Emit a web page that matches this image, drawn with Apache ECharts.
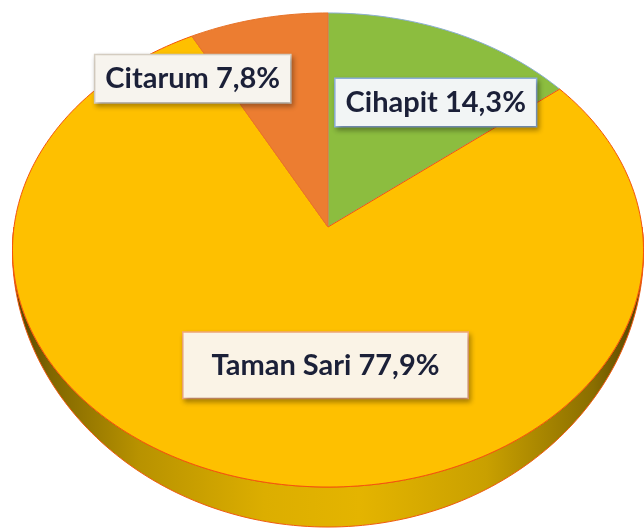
<!DOCTYPE html>
<html>
<head>
<meta charset="utf-8">
<script src="https://cdn.jsdelivr.net/npm/echarts@6/dist/echarts.min.js"></script>
<style>
  html, body { margin: 0; padding: 0; background: #fff; }
  #chart { width: 644px; height: 532px; }
</style>
</head>
<body>
<div id="chart"></div>
<script>
// data, clockwise from 12 o'clock
var categories = ['Cihapit', 'Taman Sari', 'Citarum'];
var values = [14.3, 77.9, 7.8];

// styles
var colors = ['#8cbd3f', '#fec000', '#ec7d31'];
var rimColors = ['#8aaed0', '#f4540c', '#e8742a'];
var labelBoxes = [
  { r: 0.6, dx: 30, dy: -4, bg: '#f2f5f5', border: '#8eb0dc', pad: [9, 10] },
  { r: 0.6, dx: 38, dy: -8, bg: '#faf3e6', border: '#f2a878', pad: [18, 28] },
  { r: 0.6, dx: -92, dy: -19, bg: '#f7f4ee', border: '#d8d0c4', pad: [9, 10] }
];

var chart = echarts.init(document.getElementById('chart'));

// tilted disc with a little perspective
var geo = { cx: 328, cy: 227, rx: 314, ry: 234.8, k: 0.097, h: 40 };

function proj(theta, r) {
  var u = r * Math.sin(theta), v = r * Math.cos(theta);
  var d = 1 + geo.k * v;
  return [geo.cx + geo.rx * u / d, geo.cy - geo.ry * v / d];
}

var total = values.reduce(function (a, b) { return a + b; }, 0);
var starts = [];
var acc = 0;
values.forEach(function (v) { starts.push(acc); acc += v; });

function renderSlice(params, api) {
  var i = params.dataIndex;
  var a0 = starts[i] / total * Math.PI * 2;
  var a1 = (starts[i] + api.value(0)) / total * Math.PI * 2;
  var steps = Math.max(4, Math.ceil((a1 - a0) / 0.02));
  var children = [];

  // side band for the part of the rim that faces the viewer
  var s0 = Math.max(a0, Math.PI / 2), s1 = Math.min(a1, Math.PI * 1.5);
  if (s1 > s0) {
    var top = [], bot = [];
    var n = Math.ceil((s1 - s0) / 0.02);
    for (var j = 0; j <= n; j++) {
      var t = s0 + (s1 - s0) * j / n;
      var p = proj(t, 1);
      var dh = geo.h * Math.pow(Math.max(0, -Math.cos(t)), 1.3);
      top.push(p);
      bot.unshift([p[0], p[1] + dh]);
    }
    children.push({
      type: 'polygon',
      shape: { points: top.concat(bot) },
      style: {
        fill: {
          type: 'linear', x: 0, y: 0, x2: 1, y2: 0,
          colorStops: [
            { offset: 0, color: '#4e3e00' },
            { offset: 0.06, color: '#806600' },
            { offset: 0.2, color: '#b89200' },
            { offset: 0.4, color: '#dcae00' },
            { offset: 0.55, color: '#e4b400' },
            { offset: 0.75, color: '#c9a000' },
            { offset: 0.92, color: '#8a6e00' },
            { offset: 1, color: '#4e3e00' }
          ]
        },
        stroke: '#f05a10',
        lineWidth: 1
      }
    });
  }

  // top face wedge
  var pts = [proj(0, 0)];
  for (var m = 0; m <= steps; m++) {
    pts.push(proj(a0 + (a1 - a0) * m / steps, 1));
  }
  children.push({
    type: 'polygon',
    shape: { points: pts },
    style: { fill: colors[i], stroke: rimColors[i], lineWidth: 1 }
  });

  return { type: 'group', children: children };
}

function renderLabel(params, api) {
  var i = params.dataIndex;
  var v = api.value(0);
  var mid = (starts[i] + v / 2) / total * Math.PI * 2;
  var lb = labelBoxes[i];
  var p = proj(mid, lb.r);
  return {
    type: 'text',
    x: p[0] + lb.dx,
    y: p[1] + lb.dy,
    z2: 100,
    style: {
      text: categories[i] + ' ' + v.toFixed(1).replace('.', ',') + '%',
      font: 'bold 29px Lato',
      fill: '#1b2038',
      align: 'center',
      verticalAlign: 'middle',
      backgroundColor: lb.bg,
      borderColor: lb.border,
      borderWidth: 1.5,
      padding: lb.pad,
      shadowColor: 'rgba(0,0,0,0.3)',
      shadowBlur: 5,
      shadowOffsetX: 2,
      shadowOffsetY: 3
    }
  };
}

var seriesData = values.map(function (v, i) { return { name: categories[i], value: [v] }; });

chart.setOption({
  backgroundColor: '#ffffff',
  animation: false,
  series: [
    { type: 'custom', coordinateSystem: 'none', renderItem: renderSlice, data: seriesData, z: 1 },
    { type: 'custom', coordinateSystem: 'none', renderItem: renderLabel, data: seriesData, z: 2 }
  ]
});
</script>
</body>
</html>
